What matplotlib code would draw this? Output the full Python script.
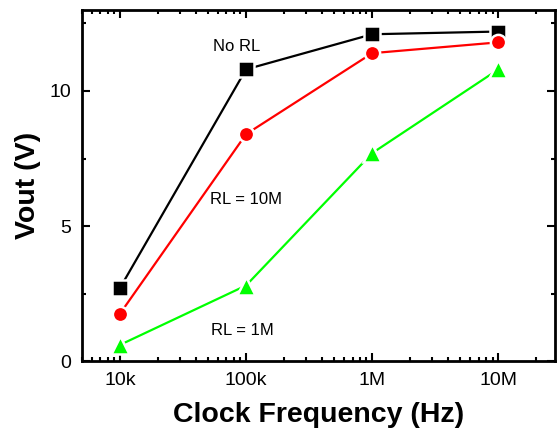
import matplotlib
matplotlib.use("Agg")
import matplotlib.pyplot as plt
from matplotlib.ticker import FixedLocator, LogLocator, NullFormatter

plt.rcParams["font.family"] = ["Liberation Sans", "DejaVu Sans"]

freq = [1e4, 1e5, 1e6, 1e7]
freq_labels = ["10k", "100k", "1M", "10M"]
vout_no_rl = [2.7, 10.8, 12.1, 12.2]
vout_rl_10m = [1.75, 8.4, 11.4, 11.8]
vout_rl_1m = [0.6, 2.8, 7.7, 10.8]

fig = plt.figure(figsize=(5.57, 4.32), dpi=100)
ax = fig.add_axes([0.147, 0.164, 0.849, 0.813])

common = dict(lw=1.6, markeredgecolor="white", markeredgewidth=1.8)
ax.plot(freq, vout_no_rl, color="black", marker="s", markersize=11, **common)
ax.plot(freq, vout_rl_10m, color="#ff0000", marker="o", markersize=11, **common)
ax.plot(freq, vout_rl_1m, color="#00ff00", marker="^", markersize=13, **common)

ax.text(5.5e4, 11.65, "No RL", fontsize=12, va="center", ha="left")
ax.text(5.2e4, 6.0, "RL = 10M", fontsize=12, va="center", ha="left")
ax.text(5.3e4, 1.15, "RL = 1M", fontsize=12, va="center", ha="left")

ax.set_xscale("log")
ax.set_xlim(5e3, 2.8e7)
ax.set_ylim(0, 13)
ax.set_xticks(freq)
ax.set_xticklabels(freq_labels)
ax.xaxis.set_minor_locator(LogLocator(base=10, subs=range(2, 10)))
ax.xaxis.set_minor_formatter(NullFormatter())
ax.set_yticks([0, 5, 10])
ax.yaxis.set_minor_locator(FixedLocator([2.5, 7.5, 12.5]))

ax.tick_params(which="both", direction="in", top=True, right=True, width=1.5)
ax.tick_params(which="major", length=6, labelsize=14, pad=8)
ax.tick_params(which="minor", length=3)
for s in ax.spines.values():
    s.set_linewidth(2)

ax.set_xlabel("Clock Frequency (Hz)", fontsize=20.5, fontweight="bold", labelpad=9)
ax.set_ylabel("Vout (V)", fontsize=20.5, fontweight="bold", labelpad=6)

fig.savefig("out.png", dpi=100)
